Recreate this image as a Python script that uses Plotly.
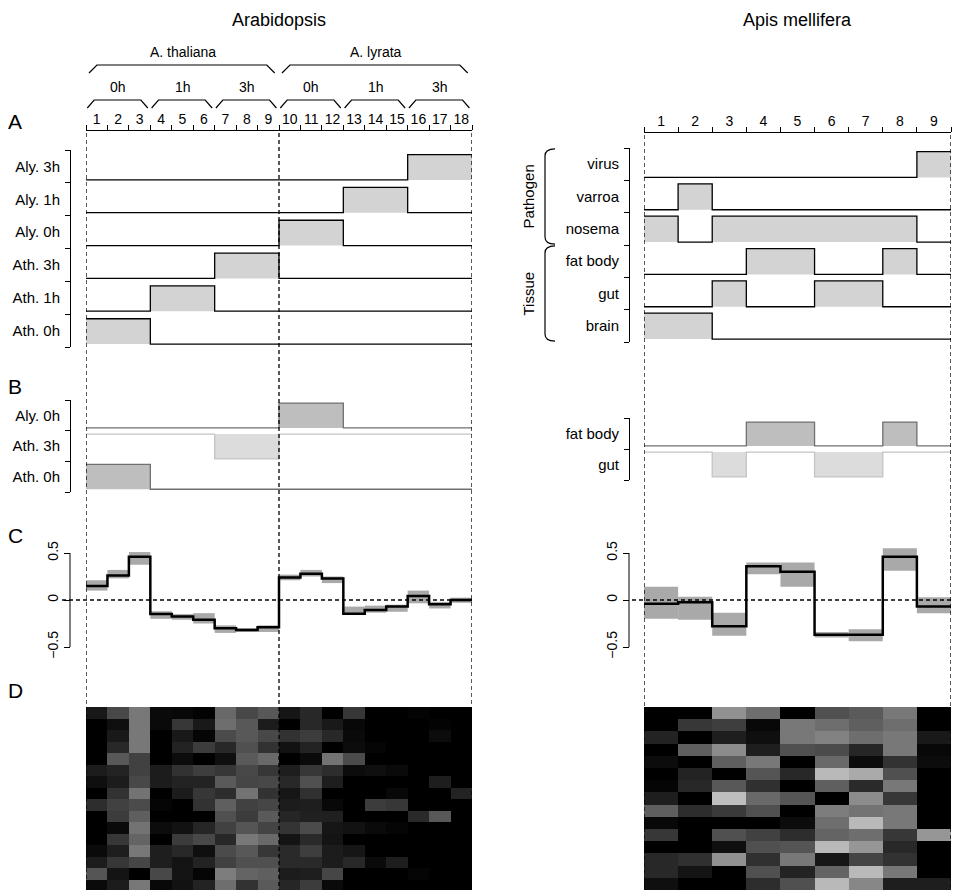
import plotly.graph_objects as go

W, H = 954, 890
def px(x): return x / W
def py(y): return 1 - y / H

FONT = "Liberation Sans, Arial, sans-serif"

# ---------------- DATA ----------------
ara_cols = list(range(1, 19))
species_labels = ["A. thaliana", "A. lyrata"]
species_cols = [(1, 9), (10, 18)]
time_labels = ["0h", "1h", "3h", "0h", "1h", "3h"]
time_cols = [(1, 3), (4, 6), (7, 9), (10, 12), (13, 15), (16, 18)]

# panel A (bottom to top)
ara_A_rows = ["Ath. 0h", "Ath. 1h", "Ath. 3h", "Aly. 0h", "Aly. 1h", "Aly. 3h"]
ara_A_members = [[1, 2, 3], [4, 5, 6], [7, 8, 9], [10, 11, 12], [13, 14, 15], [16, 17, 18]]

# panel B (bottom to top)
ara_B_rows = ["Ath. 0h", "Ath. 3h", "Aly. 0h"]
ara_B_sign = [1, -1, 1]
ara_B_members = [[1, 2, 3], [7, 8, 9], [10, 11, 12]]

# panel C
ara_C_mean = [0.15, 0.26, 0.46, -0.15, -0.175, -0.21, -0.30, -0.32, -0.29,
              0.24, 0.28, 0.23, -0.146, -0.107, -0.07, 0.043, -0.046, 0.0]
ara_C_low = [0.10, 0.23, 0.375, -0.20, -0.21, -0.25, -0.35, -0.34, -0.34,
             0.21, 0.25, 0.18, -0.16, -0.135, -0.125, -0.035, -0.09, -0.03]
ara_C_high = [0.21, 0.32, 0.51, -0.12, -0.15, -0.14, -0.27, -0.30, -0.27,
              0.27, 0.32, 0.25, -0.07, -0.06, -0.05, 0.10, -0.02, 0.025]

# panel D (top to bottom rows, grey level 0-255)
ara_D = [
    [24, 72, 120, 10, 8, 3, 104, 72, 88, 22, 40, 0, 55, 0, 0, 3, 0, 0],
    [0, 15, 120, 10, 55, 25, 110, 88, 28, 0, 40, 25, 8, 0, 0, 0, 3, 0],
    [0, 25, 120, 0, 25, 5, 75, 88, 72, 50, 60, 40, 10, 0, 0, 0, 12, 0],
    [0, 40, 120, 0, 35, 60, 40, 80, 50, 18, 35, 0, 12, 5, 0, 0, 0, 0],
    [0, 88, 65, 0, 12, 0, 15, 90, 105, 0, 10, 115, 75, 0, 0, 0, 0, 0],
    [28, 35, 65, 28, 50, 62, 55, 72, 55, 30, 55, 45, 12, 15, 10, 0, 0, 0],
    [15, 28, 72, 28, 35, 35, 90, 70, 72, 40, 80, 30, 0, 0, 0, 0, 30, 0],
    [0, 50, 115, 0, 28, 55, 45, 115, 50, 22, 48, 0, 0, 0, 8, 0, 0, 35],
    [45, 65, 75, 5, 0, 50, 95, 65, 70, 28, 30, 8, 0, 60, 55, 0, 0, 0],
    [0, 60, 95, 0, 0, 0, 80, 60, 90, 38, 32, 32, 0, 0, 0, 42, 88, 0],
    [0, 10, 115, 12, 18, 38, 65, 85, 68, 52, 75, 22, 18, 10, 5, 0, 0, 0],
    [0, 55, 100, 0, 60, 72, 40, 120, 105, 20, 42, 20, 0, 0, 0, 0, 0, 0],
    [10, 30, 120, 30, 40, 15, 75, 88, 55, 42, 62, 28, 22, 0, 0, 0, 0, 0],
    [28, 55, 70, 30, 20, 35, 65, 80, 80, 42, 42, 28, 40, 10, 30, 0, 0, 0],
    [85, 20, 0, 72, 20, 5, 125, 100, 95, 28, 30, 70, 0, 0, 0, 5, 0, 0],
    [10, 28, 120, 8, 18, 35, 110, 50, 90, 38, 60, 10, 0, 0, 0, 0, 0, 0],
]

api_cols = list(range(1, 10))
api_A_rows = ["brain", "gut", "fat body", "nosema", "varroa", "virus"]
api_A_members = [[1, 2], [3, 6, 7], [4, 5, 8], [1, 3, 4, 5, 6, 7, 8], [2], [9]]
api_groups = [("Tissue", 0, 3), ("Pathogen", 3, 6)]

api_B_rows = ["gut", "fat body"]
api_B_sign = [-1, 1]
api_B_members = [[3, 6, 7], [4, 5, 8]]

api_C_mean = [-0.04, -0.025, -0.28, 0.36, 0.30, -0.37, -0.37, 0.46, -0.07]
api_C_low = [-0.20, -0.21, -0.38, 0.275, 0.14, -0.40, -0.44, 0.31, -0.14]
api_C_high = [0.14, 0.035, -0.135, 0.40, 0.40, -0.34, -0.31, 0.55, 0.03]

api_D = [
    [0, 0, 145, 110, 0, 80, 90, 120, 0],
    [0, 55, 62, 8, 120, 110, 95, 110, 0],
    [35, 0, 30, 15, 120, 130, 110, 120, 25],
    [0, 95, 140, 30, 80, 75, 38, 120, 8],
    [12, 0, 95, 120, 0, 105, 12, 50, 12],
    [0, 35, 0, 85, 40, 185, 170, 80, 0],
    [5, 40, 88, 48, 0, 95, 42, 120, 0],
    [30, 0, 190, 105, 85, 0, 140, 55, 0],
    [95, 45, 58, 80, 0, 125, 115, 120, 0],
    [8, 0, 0, 0, 12, 110, 185, 120, 0],
    [55, 0, 80, 65, 45, 100, 110, 55, 150],
    [0, 0, 15, 80, 85, 185, 150, 40, 0],
    [40, 48, 145, 48, 120, 22, 68, 50, 0],
    [40, 20, 0, 80, 35, 100, 185, 120, 0],
    [15, 0, 0, 45, 80, 185, 135, 30, 30],
]

# ---------------- FIGURE ----------------
fig = go.Figure()


def add_step(xa, ya, ncol, members, base, height, fill, line, lw):
    edges = [c - 0.5 for c in range(1, ncol + 2)]
    ind = [1 if c in members else 0 for c in range(1, ncol + 1)]
    ytop = [base + height * v for v in ind] + [base + height * ind[-1]]
    fig.add_trace(go.Scatter(x=edges, y=[base] * len(edges), xaxis=xa, yaxis=ya,
                             mode="lines", line=dict(width=0, color="rgba(0,0,0,0)"),
                             hoverinfo="skip", showlegend=False))
    fig.add_trace(go.Scatter(x=edges, y=ytop, xaxis=xa, yaxis=ya, mode="lines",
                             line=dict(shape="hv", color=line, width=lw),
                             fill="tonexty", fillcolor=fill,
                             hoverinfo="skip", showlegend=False))


# Panel A
for k, mem in enumerate(ara_A_members):
    add_step("x", "y", len(ara_cols), mem, k + 0.09, 0.77, "#d3d3d3", "black", 1.3)
for k, mem in enumerate(api_A_members):
    add_step("x2", "y5", len(api_cols), mem, k + 0.09, 0.8, "#d3d3d3", "black", 1.3)

# Panel B
for k, (mem, s) in enumerate(zip(ara_B_members, ara_B_sign)):
    if s > 0:
        add_step("x", "y2", len(ara_cols), mem, k + 0.09, 0.81, "#bebebe", "#707070", 1.3)
    else:
        add_step("x", "y2", len(ara_cols), mem, k + 0.89, -0.81, "#dcdcdc", "#c4c4c4", 1.3)
for k, (mem, s) in enumerate(zip(api_B_members, api_B_sign)):
    if s > 0:
        add_step("x2", "y6", len(api_cols), mem, k + 0.1, 0.77, "#bebebe", "#707070", 1.3)
    else:
        add_step("x2", "y6", len(api_cols), mem, k + 0.9, -0.8, "#dcdcdc", "#c4c4c4", 1.3)


# Panel C
def add_C(xa, ya, cols, mean, low, high):
    fig.add_trace(go.Bar(x=cols, y=[h - l for h, l in zip(high, low)], base=low,
                         width=1, marker=dict(color="#a9a9a9", line=dict(width=0)),
                         xaxis=xa, yaxis=ya, hoverinfo="skip", showlegend=False))
    edges = [c - 0.5 for c in cols] + [cols[-1] + 0.5]
    fig.add_trace(go.Scatter(x=edges, y=list(mean) + [mean[-1]], xaxis=xa, yaxis=ya,
                             mode="lines", line=dict(shape="hv", color="black", width=2.5),
                             hoverinfo="skip", showlegend=False))


add_C("x", "y3", ara_cols, ara_C_mean, ara_C_low, ara_C_high)
add_C("x2", "y7", api_cols, api_C_mean, api_C_low, api_C_high)

# Panel D
grey = [[0, "#000000"], [1, "#ffffff"]]
fig.add_trace(go.Heatmap(z=ara_D, x=ara_cols, y=list(range(1, len(ara_D) + 1)),
                         colorscale=grey, zmin=0, zmax=255, showscale=False,
                         xaxis="x", yaxis="y4", hoverinfo="skip"))
fig.add_trace(go.Heatmap(z=api_D, x=api_cols, y=list(range(1, len(api_D) + 1)),
                         colorscale=grey, zmin=0, zmax=255, showscale=False,
                         xaxis="x2", yaxis="y8", hoverinfo="skip"))

# ---------------- AXES ----------------
tickfont = dict(family=FONT, size=14, color="black")
labfont = dict(family=FONT, size=15, color="black")


def top_axis(domain, n, pos):
    return dict(domain=domain, range=[0.5, n + 0.5], anchor="free", position=pos,
                side="top", tickmode="array", tickvals=list(range(1, n + 1)),
                ticktext=[str(i) for i in range(1, n + 1)], ticks="",
                showline=True, linecolor="black", linewidth=1,
                showgrid=False, zeroline=False, tickfont=tickfont,
                minor=dict(tickmode="array", tickvals=[i + 0.5 for i in range(0, n + 1)],
                           ticks="outside", ticklen=5, tickcolor="black", tickwidth=1,
                           showgrid=False),
                fixedrange=True)


def bracket_axis(domain, nrows, labels, pos):
    return dict(domain=domain, range=[0, nrows], anchor="free", position=pos,
                side="left", tickmode="array", tickvals=[k + 0.5 for k in range(nrows)],
                ticktext=labels, ticks="", showline=True, linecolor="black",
                linewidth=1, showgrid=False, zeroline=False, tickfont=labfont,
                ticklabelstandoff=7,
                minor=dict(tickmode="array", tickvals=list(range(nrows + 1)),
                           ticks="outside", ticklen=5, tickcolor="black", tickwidth=1,
                           showgrid=False),
                fixedrange=True)


def c_axis(domain, rng, pos):
    return dict(domain=domain, range=rng, anchor="free", position=pos, side="left",
                tickmode="array", tickvals=[-0.5, 0, 0.5],
                ticktext=["\u22120.5", "0", "0.5"], ticks="outside", ticklen=6,
                tickcolor="black", tickangle=-90, showline=False, showgrid=False,
                zeroline=False, tickfont=tickfont, fixedrange=True)


def hidden_y(domain, rng):
    return dict(domain=domain, range=rng, visible=False, showgrid=False,
                zeroline=False, fixedrange=True)


Cdom = [py(685), py(515)]
Crng = [(600 - 685) / 94.0, (600 - 515) / 94.0]

fig.update_layout(
    width=W, height=H, margin=dict(l=0, r=0, t=0, b=0, autoexpand=False),
    paper_bgcolor="white", plot_bgcolor="rgba(0,0,0,0)",
    showlegend=False, barmode="overlay", font=dict(family=FONT, color="black"),
    xaxis=top_axis([px(86), px(472)], len(ara_cols), py(130)),
    xaxis2=top_axis([px(644), px(951)], len(api_cols), py(132)),
    yaxis=bracket_axis([py(347), py(150)], len(ara_A_rows), ara_A_rows, px(70)),
    yaxis2=bracket_axis([py(492), py(400)], len(ara_B_rows), ara_B_rows, px(70)),
    yaxis3=c_axis(Cdom, Crng, px(70)),
    yaxis4=hidden_y([0, py(707)], [0.5 + 183 / 11.5, 0.5]),
    yaxis5=bracket_axis([py(342), py(148)], len(api_A_rows), api_A_rows, px(629)),
    yaxis6=bracket_axis([py(480), py(418)], len(api_B_rows), api_B_rows, px(629)),
    yaxis7=c_axis(Cdom, Crng, px(629)),
    yaxis8=hidden_y([0, py(707)], [len(api_D) + 0.5, 0.5]),
)

# ---------------- SHAPES ----------------
shapes = []
dash = dict(color="black", width=1.3, dash="4px,3px")
for xv in [0.5, 9.5, 18.5]:
    shapes.append(dict(type="line", xref="x", yref="paper", x0=xv, x1=xv,
                       y0=py(133), y1=0, line=dash, layer="above"))
for xv in [0.5, 9.5]:
    shapes.append(dict(type="line", xref="x2", yref="paper", x0=xv, x1=xv,
                       y0=py(135), y1=0, line=dash, layer="above"))
# zero lines in panel C
shapes.append(dict(type="line", xref="paper", yref="y3", x0=px(62), x1=px(473),
                   y0=0, y1=0, line=dash, layer="above"))
shapes.append(dict(type="line", xref="paper", yref="y7", x0=px(632), x1=px(953),
                   y0=0, y1=0, line=dash, layer="above"))
# C axis lines (-0.5 .. 0.5)
for ya, xp in [("y3", 70), ("y7", 629)]:
    shapes.append(dict(type="line", xref="paper", yref=ya, x0=px(xp), x1=px(xp),
                       y0=-0.5, y1=0.5, line=dict(color="black", width=1)))


def brace(a, b, ylow, yhigh, d):
    return dict(type="path", xref="x", yref="paper",
                path=f"M {a},{py(ylow)} L {a + d},{py(yhigh)} L {b - d},{py(yhigh)} L {b},{py(ylow)}",
                line=dict(color="black", width=1.2))


for c0, c1 in species_cols:
    shapes.append(brace(c0 - 0.5 + 0.14, c1 + 0.5 - 0.2, 73, 65, 0.37))
for c0, c1 in time_cols:
    shapes.append(brace(c0 - 0.5 + 0.06, c1 + 0.5 - 0.12, 108, 100, 0.32))

# curly braces for Pathogen / Tissue
for name, r0, r1 in api_groups:
    yt = r1 - 0.03
    yb = r0 + 0.03
    x1 = px(555)
    x0 = px(545)
    shapes.append(dict(type="path", xref="paper", yref="y5",
                       path=f"M {x1},{yt} Q {x0},{yt} {x0},{yt - 0.22} L {x0},{yb + 0.22} Q {x0},{yb} {x1},{yb}",
                       line=dict(color="black", width=1.2)))

fig.update_layout(shapes=shapes)

# ---------------- ANNOTATIONS ----------------
ann = []
def note(text, x, y, xref="paper", yref="paper", size=15, angle=0, xanchor="center"):
    ann.append(dict(text=text, x=x, y=y, xref=xref, yref=yref, xanchor=xanchor,
                    yanchor="middle", textangle=angle, showarrow=False,
                    font=dict(family=FONT, size=size, color="black")))

note("Arabidopsis", px(279), py(20), size=18)
note("Apis mellifera", px(797), py(20), size=18)
for lab, (c0, c1) in zip(species_labels, species_cols):
    note(lab, (c0 + c1) / 2, py(52), xref="x", size=14)
for lab, (c0, c1) in zip(time_labels, time_cols):
    note(lab, (c0 + c1) / 2, py(87), xref="x", size=14)
for letter, yy in [("A", 122), ("B", 387), ("C", 535), ("D", 690)]:
    note(letter, px(6), py(yy), size=21, xanchor="left")
for name, r0, r1 in api_groups:
    note(name, px(528), (r0 + r1) / 2, yref="y5", size=15, angle=-90)
fig.update_layout(annotations=ann)

fig.write_html("out.html", config={"displayModeBar": False, "staticPlot": True},
               post_script="document.body.style.margin='0px';")
